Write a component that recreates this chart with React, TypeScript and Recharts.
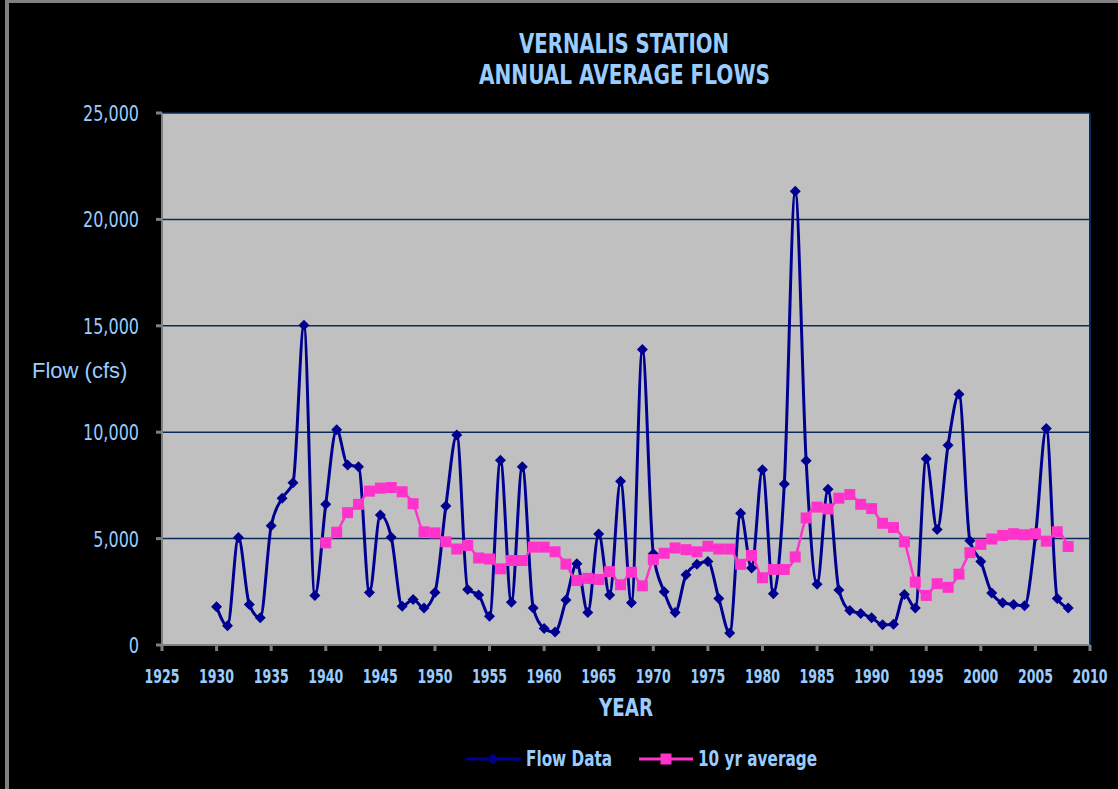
import { LineChart, Line, XAxis, YAxis, CartesianGrid, ReferenceLine } from 'recharts';

// annual average flow at Vernalis, cfs
const flowYears = [
  1930, 1931, 1932, 1933, 1934, 1935, 1936, 1937, 1938, 1939,
  1940, 1941, 1942, 1943, 1944, 1945, 1946, 1947, 1948, 1949,
  1950, 1951, 1952, 1953, 1954, 1955, 1956, 1957, 1958, 1959,
  1960, 1961, 1962, 1963, 1964, 1965, 1966, 1967, 1968, 1969,
  1970, 1971, 1972, 1973, 1974, 1975, 1976, 1977, 1978, 1979,
  1980, 1981, 1982, 1983, 1984, 1985, 1986, 1987, 1988, 1989,
  1990, 1991, 1992, 1993, 1994, 1995, 1996, 1997, 1998, 1999,
  2000, 2001, 2002, 2003, 2004, 2005, 2006, 2007, 2008,
];
const flowData = [
  1800, 900, 5050, 1900, 1280, 5600, 6900, 7620, 15020, 2330,
  6610, 10110, 8460, 8380, 2470, 6110, 5060, 1820, 2140, 1740,
  2470, 6530, 9870, 2610, 2350, 1350, 8680, 2010, 8380, 1740,
  780, 610, 2110, 3820, 1530, 5220, 2350, 7690, 1990, 13890,
  4290, 2500, 1530, 3300, 3790, 3920, 2190, 560, 6190, 3620,
  8240, 2410, 7570, 21320, 8660, 2860, 7320, 2580, 1620, 1480,
  1280, 950, 980, 2370, 1740, 8750, 5430, 9390, 11780, 4900,
  3920, 2440, 1990, 1900, 1850, 5100, 10170, 2190, 1740,
];
// 10 yr running average starts in 1940
const avgStartYear = 1940;
const avgData = [
  4800, 5300, 6220, 6610, 7230, 7370, 7400, 7200, 6640, 5320,
  5270, 4850, 4510, 4680, 4090, 4040, 3580, 3970, 3970, 4600,
  4600, 4380, 3800, 3030, 3130, 3080, 3450, 2830, 3420, 2780,
  4010, 4310, 4560, 4480, 4380, 4640, 4510, 4510, 3790, 4210,
  3160, 3550, 3550, 4140, 5970, 6480, 6390, 6900, 7070, 6610,
  6410, 5720, 5520, 4850, 2960, 2330, 2880, 2710, 3330, 4340,
  4730, 4980, 5150, 5230, 5180, 5230, 4880, 5320, 4630,
];

const xTicks = [1925, 1930, 1935, 1940, 1945, 1950, 1955, 1960, 1965, 1970, 1975, 1980, 1985, 1990, 1995, 2000, 2005, 2010];
const yTicks = [0, 5000, 10000, 15000, 20000, 25000];

const rows = flowYears.map((year, i) => {
  const j = year - avgStartYear;
  return { year, flow: flowData[i], avg: j >= 0 && j < avgData.length ? avgData[j] : null };
});

const LIGHT_BLUE = '#99CCFF';
const NAVY = '#000090';
const PINK = '#FF33CC';
const GRID = '#0B2A5B';
const AXIS_GRAY = '#808080';
// no narrow font installed, so texts get squeezed with textLength
const NARROW = "'DejaVu Sans Condensed', 'DejaVu Sans', sans-serif";

function DiamondDot(props: any) {
  const { cx, cy } = props;
  if (cx == null || cy == null) return null;
  return <polygon points={`${cx},${cy - 5.5} ${cx + 5.5},${cy} ${cx},${cy + 5.5} ${cx - 5.5},${cy}`} fill={NAVY} />;
}

function SquareDot(props: any) {
  const { cx, cy, value } = props;
  if (cx == null || cy == null || value == null) return null;
  return <rect x={cx - 5.5} y={cy - 5.5} width={11} height={11} fill={PINK} />;
}

function XTick(props: any) {
  const { x, y, payload } = props;
  return (
    <text x={x} y={y + 15} textAnchor="middle" fill={LIGHT_BLUE} fontSize={19} fontWeight="bold"
      fontFamily={NARROW} textLength={35} lengthAdjust="spacingAndGlyphs">
      {payload.value}
    </text>
  );
}

function YTick(props: any) {
  const { x, y, payload } = props;
  const label = Number(payload.value).toLocaleString('en-US');
  const digits = label.replace(/,/g, '').length;
  const commas = label.length - digits;
  return (
    <text x={x} y={y + 8} textAnchor="end" fill={LIGHT_BLUE} fontSize={22}
      fontFamily={NARROW} textLength={digits * 10.3 + commas * 4.5} lengthAdjust="spacingAndGlyphs">
      {label}
    </text>
  );
}

function YLabel(props: any) {
  const { viewBox } = props;
  return (
    <text x={viewBox.x + 20} y={378} fill={LIGHT_BLUE} fontSize={22} fontFamily="'Liberation Sans', Arial, sans-serif">
      Flow (cfs)
    </text>
  );
}

function XLabel(props: any) {
  const { viewBox } = props;
  return (
    <text x={viewBox.x + viewBox.width / 2} y={716} textAnchor="middle" fill={LIGHT_BLUE} fontSize={24} fontWeight="bold"
      fontFamily={NARROW} textLength={54} lengthAdjust="spacingAndGlyphs">
      YEAR
    </text>
  );
}

export default function App() {
  return (
    <div style={{ position: 'absolute', left: 0, top: 0, width: 1118, height: 789, background: '#000', overflow: 'hidden' }}>
      <div style={{ position: 'absolute', left: 5, top: 0, width: 1200, height: 900, borderLeft: `4px solid ${AXIS_GRAY}`, borderTop: `3px solid ${AXIS_GRAY}` }} />
      <div style={{ position: 'absolute', left: 0, top: 0 }}>
        <LineChart width={1118} height={789} data={rows} margin={{ top: 113, right: 28, bottom: 64, left: 12 }}>
          <CartesianGrid vertical={false} fill="#C0C0C0" fillOpacity={1} stroke={GRID} strokeWidth={1.5} />
          <XAxis
            dataKey="year"
            type="number"
            domain={[1925, 2010]}
            ticks={xTicks}
            interval={0}
            height={80}
            stroke={AXIS_GRAY}
            strokeWidth={2}
            tickSize={6}
            tickMargin={17}
            tick={<XTick />}
            tickLine={{ stroke: AXIS_GRAY, strokeWidth: 3 }}
            label={<XLabel />}
          />
          <YAxis
            type="number"
            domain={[0, 25000]}
            ticks={yTicks}
            interval={0}
            width={150}
            stroke={AXIS_GRAY}
            strokeWidth={2}
            tickSize={6}
            tickMargin={17}
            tick={<YTick />}
            tickLine={{ stroke: AXIS_GRAY, strokeWidth: 3 }}
            label={<YLabel />}
          />
          <ReferenceLine x={2010} stroke={GRID} strokeWidth={2} />
          <Line type="monotone" dataKey="flow" stroke={NAVY} strokeWidth={3} dot={<DiamondDot />} activeDot={false} isAnimationActive={false} />
          <Line type="monotone" dataKey="avg" stroke={PINK} strokeWidth={2.5} dot={<SquareDot />} activeDot={false} isAnimationActive={false} />
        </LineChart>
      </div>
      <svg width={1118} height={789} style={{ position: 'absolute', left: 0, top: 0, pointerEvents: 'none' }}>
        <g fill={LIGHT_BLUE} fontFamily={NARROW} fontWeight="bold" fontSize={26} textAnchor="middle">
          <text x={624} y={53} textLength={210} lengthAdjust="spacingAndGlyphs">VERNALIS STATION</text>
          <text x={624.5} y={83.5} textLength={291} lengthAdjust="spacingAndGlyphs">ANNUAL AVERAGE FLOWS</text>
        </g>
        <line x1={466} y1={759} x2={521} y2={759} stroke={NAVY} strokeWidth={3} />
        <polygon points="493,753.5 498.5,759 493,764.5 487.5,759" fill={NAVY} />
        <text x={526} y={766} fill={LIGHT_BLUE} fontFamily={NARROW} fontWeight="bold" fontSize={22} textLength={86} lengthAdjust="spacingAndGlyphs">Flow Data</text>
        <line x1={639} y1={759} x2={693} y2={759} stroke={PINK} strokeWidth={3} />
        <rect x={660.5} y={753.5} width={11} height={11} fill={PINK} />
        <text x={698} y={766} fill={LIGHT_BLUE} fontFamily={NARROW} fontWeight="bold" fontSize={22} textLength={119} lengthAdjust="spacingAndGlyphs">10 yr average</text>
      </svg>
    </div>
  );
}
